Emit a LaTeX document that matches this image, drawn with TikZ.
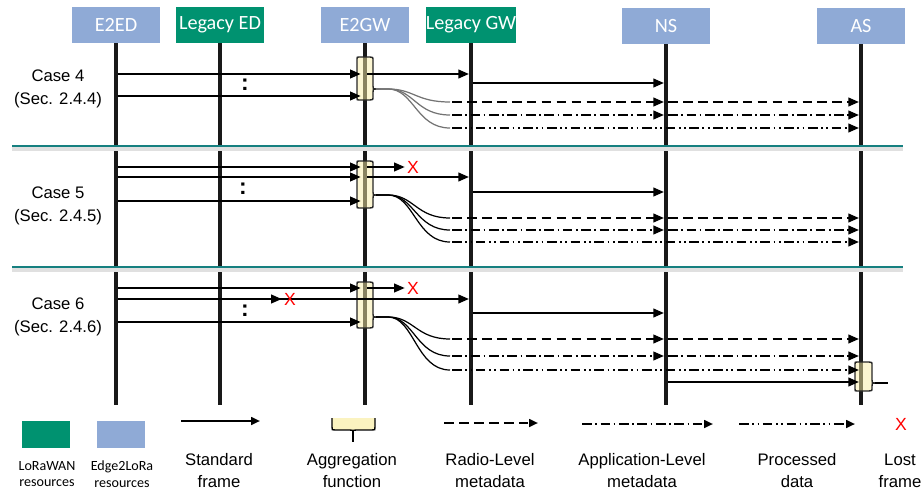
\documentclass[tikz,border=0pt]{standalone}
\usepackage{fontspec}
\setmainfont{Liberation Sans}
\newfontfamily\calibri{Carlito}
\usetikzlibrary{arrows.meta}

\definecolor{lwgreen}{RGB}{0,146,112}
\definecolor{elblue}{RGB}{143,170,214}
\definecolor{septeal}{RGB}{22,128,128}
\definecolor{aggyellow}{RGB}{250,238,165}

\begin{document}
\begin{tikzpicture}[x=0.02cm,y=-0.02cm,
	lwbox/.style={fill=lwgreen, minimum width=1.76cm, minimum height=0.72cm, inner sep=0pt, text=white, font=\calibri\fontsize{11.5}{13}\selectfont},
	elbox/.style={lwbox, fill=elblue},
	lifeline/.style={line width=2.3pt, black!90},
	sepline/.style={line width=1.7pt, septeal},
	msg/.style={line width=0.9pt, -{Triangle[length=6pt,width=5pt]}, shorten <=1.2pt, shorten >=1.2pt},
	toagg/.style={msg, shorten >=2.5pt},
	radiomsg/.style={msg, dash pattern=on 5.5pt off 3pt},
	appmsg/.style={msg, dash pattern=on 5.5pt off 2pt on 1pt off 2pt},
	procmsg/.style={msg, dash pattern=on 5.5pt off 2pt on 1pt off 2pt on 1pt off 2pt},
	fancurve/.style={line width=0.7pt},
	aggshape/.style={draw=black!85, line width=0.8pt, fill=aggyellow, fill opacity=0.5},
	lostx/.style={text=red, inner sep=0pt, font=\fontsize{10}{12}\selectfont},
	morefr/.style={inner sep=0pt, font=\bfseries\fontsize{13}{13}\selectfont},
	casetxt/.style={align=center, font=\fontsize{9.5}{13}\selectfont},
	keytxt/.style={align=center, font=\fontsize{9.5}{12.5}\selectfont},
	keysmall/.style={align=center, font=\calibri\fontsize{8}{9.5}\selectfont}]
	\newcommand{\aggbox}[5]{% left, right, top, bottom, bump
		\filldraw[aggshape] (#1,#3+2) .. controls (#1,#3) .. (#1+2,#3) -- (#2-3,#3) .. controls (#2,#3) .. (#2,#3+4) -- (#2,#5-3) .. controls (#2,#5) .. (#2+3,#5) .. controls (#2,#5) .. (#2,#5+3) -- (#2,#4-4) .. controls (#2,#4) .. (#2-3,#4) -- (#1+2,#4) .. controls (#1,#4) .. (#1,#4-2) -- cycle;
	}
	\newcommand{\fanout}[5]{% bump y, radio y, app y, processed y, curve colour
		\foreach \ty/\nm in {#2/r,#3/a,#4/p}
			\draw[fancurve, #5] (376,#1) -- (388,#1) .. controls (414,#1) and (416,\ty) .. (450,\ty) coordinate (\nm#1);
	}
	
	\useasboundingbox (0,0) rectangle (923,490);
	
	% entities
	\node[elbox] (e2ed) at (116,25) {E2ED};
	\node[lwbox] (led) at (220,25) {Legacy ED};
	\node[elbox] (e2gw) at (365,25) {E2GW};
	\node[lwbox] (lgw) at (471,25) {Legacy GW};
	\node[elbox] (ns) at (666,26) {NS};
	\node[elbox] (as) at (861,26) {AS};
	
	% lifelines
	\foreach \ent in {e2ed,led,e2gw,lgw,ns,as}
		\draw[lifeline] (\ent.south) -- (\ent.south |- 0,405);
	
	% case separators
	\draw[line width=2pt, black!12] (12,149) -- (903,149);	% shadow
	\draw[sepline] (12,146) -- (903,146);
	\draw[line width=2pt, black!12] (12,270) -- (903,270);	% shadow
	\draw[sepline] (12,267) -- (903,267);
	
	\node[casetxt] (case4) at (58,89) {Case 4\\(Sec. 2.4.4)};
	\node[casetxt] (case5) at (58,206) {Case 5\\(Sec. 2.4.5)};
	\node[casetxt] (case6) at (58,317) {Case 6\\(Sec. 2.4.6)};
	
	% aggregation at E2GW and AS
	\aggbox{357}{373}{57}{100}{89}
	\aggbox{357}{373}{161}{208}{195}
	\aggbox{357}{373}{282}{328}{317}
	\aggbox{855}{872}{362}{391}{383}
	
	% case 4
	\draw[toagg] (e2ed |- 0,74) -- (e2gw |- 0,74);
	\draw[msg] (e2gw |- 0,74) -- (lgw |- 0,74);
	\draw[msg] (lgw |- 0,83) -- (ns |- 0,83);
	\draw[toagg] (e2ed |- 0,96) -- (e2gw |- 0,96);
	\node[morefr] (dots4) at (245,85) {:};
	\fanout{89}{102}{115}{128}{black!55}
	\draw[radiomsg] (r89) -- (ns |- r89);
	\draw[radiomsg] (ns |- r89) -- (as |- r89);
	\draw[appmsg] (a89) -- (ns |- a89);
	\draw[appmsg] (ns |- a89) -- (as |- a89);
	\draw[procmsg] (p89) -- (as |- p89);
	
	% case 5
	\node[lostx] (lost5) at (413,167) {X};
	\draw[toagg] (e2ed |- 0,167) -- (e2gw |- 0,167);
	\draw[msg] (e2gw |- 0,167) -- (lost5.west);
	\draw[toagg] (e2ed |- 0,177) -- (e2gw |- 0,177);
	\draw[msg] (e2gw |- 0,177) -- (lgw |- 0,177);
	\draw[msg] (lgw |- 0,192) -- (ns |- 0,192);
	\draw[toagg] (e2ed |- 0,201) -- (e2gw |- 0,201);
	\node[morefr] (dots5) at (243,189) {:};
	\fanout{195}{218}{230}{242}{black}
	\draw[radiomsg] (r195) -- (ns |- r195);
	\draw[radiomsg] (ns |- r195) -- (as |- r195);
	\draw[appmsg] (a195) -- (ns |- a195);
	\draw[appmsg] (ns |- a195) -- (as |- a195);
	\draw[procmsg] (p195) -- (as |- p195);
	
	% case 6
	\node[lostx] (lost6a) at (413,288) {X};
	\draw[toagg] (e2ed |- 0,288) -- (e2gw |- 0,288);
	\draw[msg] (e2gw |- 0,288) -- (lost6a.west);
	\draw[msg] (led |- 0,299) -- (lgw |- 0,299);
	\node[lostx] (lost6b) at (290,299) {X};
	\draw[msg] (e2ed |- lost6b) -- (lost6b.west);
	\draw[msg] (lgw |- 0,313) -- (ns |- 0,313);
	\draw[toagg] (e2ed |- 0,322) -- (e2gw |- 0,322);
	\node[morefr] (dots6) at (245,311) {:};
	\fanout{317}{339}{356}{370}{black}
	\draw[radiomsg] (r317) -- (ns |- r317);
	\draw[radiomsg] (ns |- r317) -- (as |- r317);
	\draw[appmsg] (a317) -- (ns |- a317);
	\draw[appmsg] (ns |- a317) -- (as |- a317);
	\draw[procmsg] (p317) -- (as |- p317);
	\draw[msg] (ns |- 0,382) -- (as |- 0,382);
	\draw[line width=0.9pt] (875,383) -- (888,383);	% AS output
	
	% legend
	\node[lwbox, minimum width=0.96cm, minimum height=0.54cm] (keylw) at (46,434) {};
	\node[elbox, minimum width=0.96cm, minimum height=0.54cm] (keyel) at (121,434) {};
	\node[keysmall] (keylwtxt) at (47,474) {LoRaWAN\\resources};
	\node[keysmall] (keyeltxt) at (122,474) {Edge2LoRa\\resources};
	
	\coordinate (stdA) at (179,421); \coordinate (stdB) at (262,421);
	\draw[msg, -{Triangle[length=5pt,width=4.5pt]}] (stdA) -- (stdB);
	\node[keytxt] (stdtxt) at (219,471) {Standard\\frame};
	
	\fill[aggyellow!70] (332,418) rectangle (375,430);	% aggregation key
	\draw[line width=0.8pt] (332,418) -- (332,427) .. controls (332,430) .. (335,430) -- (350,430) .. controls (353,430) .. (353,433) .. controls (353,430) .. (356,430) -- (372,430) .. controls (375,430) .. (375,427) -- (375,418);
	\draw[line width=0.8pt] (353,432) -- (353,442);
	\node[keytxt] (aggtxt) at (352,471) {Aggregation\\function};
	
	\coordinate (radA) at (442,423); \coordinate (radB) at (540,423);
	\draw[radiomsg, -{Triangle[length=5pt,width=4.5pt]}] (radA) -- (radB);
	\node[keytxt] (radtxt) at (490,471) {Radio-Level\\metadata};
	
	\coordinate (appA) at (580,424); \coordinate (appB) at (715,424);
	\draw[appmsg, -{Triangle[length=5pt,width=4.5pt]}] (appA) -- (appB);
	\node[keytxt] (apptxt) at (642,471) {Application-Level\\metadata};
	
	\coordinate (proA) at (737,424); \coordinate (proB) at (857,424);
	\draw[procmsg, -{Triangle[length=5pt,width=4.5pt]}] (proA) -- (proB);
	\node[keytxt] (protxt) at (797,471) {Processed\\data};
	
	\node[lostx] (lostkey) at (901,424) {X};
	\node[keytxt] (losttxt) at (900,471) {Lost\\frame};
\end{tikzpicture}
\end{document}
